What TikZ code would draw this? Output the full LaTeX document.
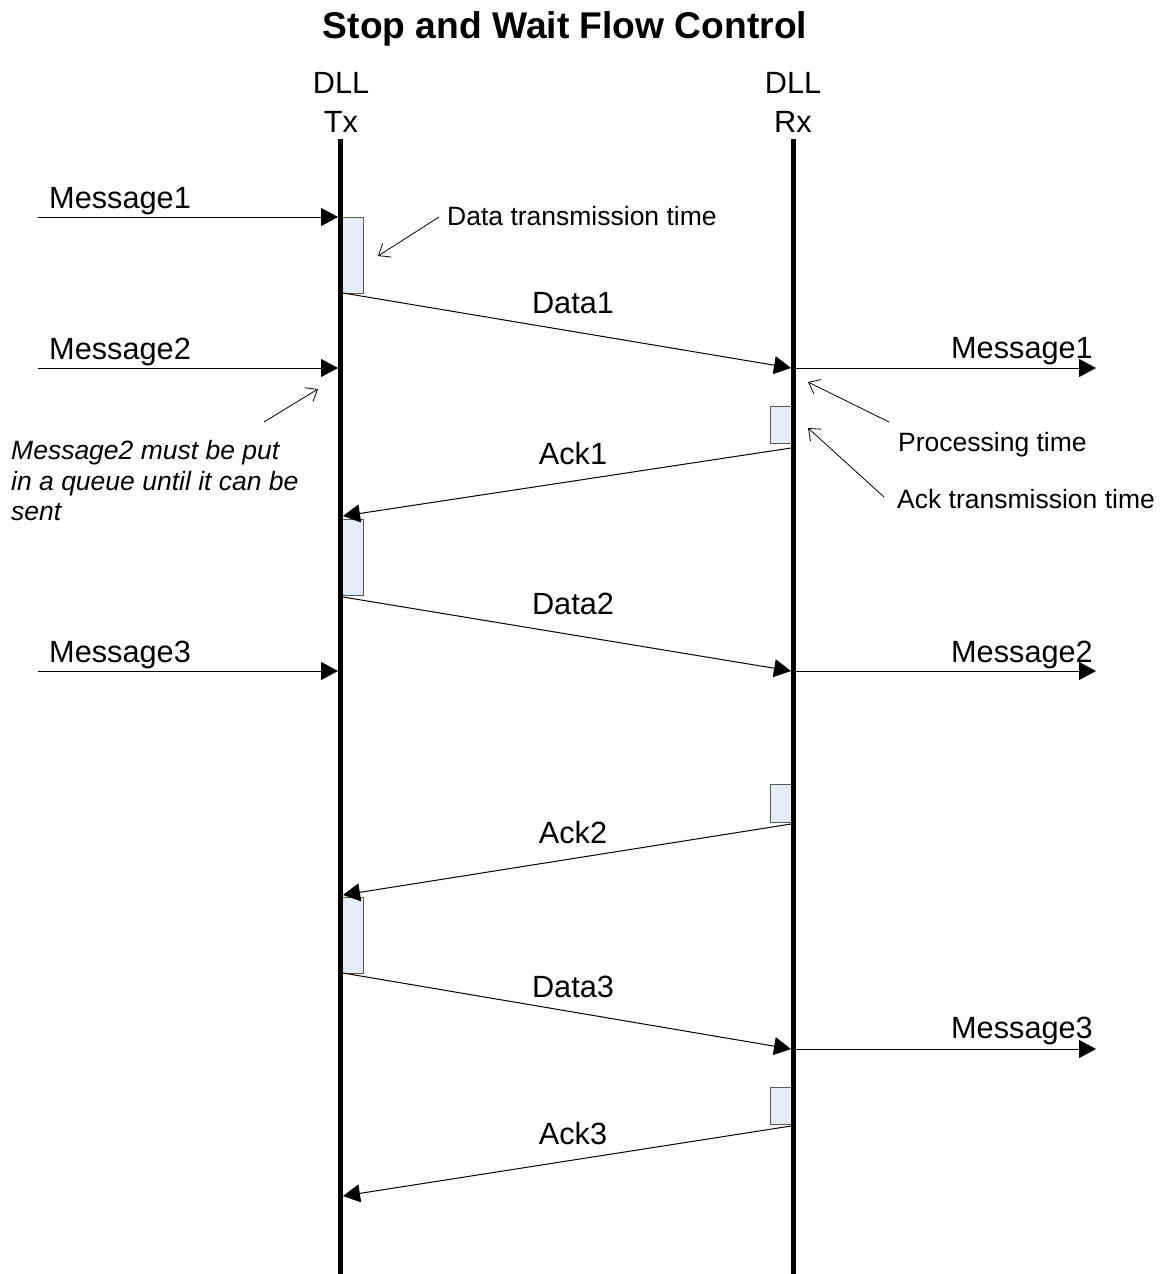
\documentclass[tikz,border=0pt]{standalone}
\usepackage{fontspec}
\setmainfont{Liberation Sans}
\usetikzlibrary{arrows.meta}
\tikzset{
  lifeline/.style={line width=5pt},
  msg/.style={line width=1pt, -{Triangle[length=17pt,width=18pt]}},
  note/.style={line width=0.8pt, -{Straight Barb[length=10pt,width=16pt]}},
  txbox/.style={draw=black!65, line width=0.8pt, fill=boxfill, minimum width=23pt, minimum height=76pt, inner sep=0pt, anchor=north west},
  rxbox/.style={draw=black!65, line width=0.8pt, fill=boxfill, minimum width=22pt, minimum height=37pt, inner sep=0pt, anchor=north east},
  big/.style={inner sep=0pt, font=\fontsize{30.7}{36}\selectfont},
  small/.style={inner sep=0pt, font=\fontsize{26.5}{31}\selectfont},
  smallit/.style={inner sep=0pt, font=\fontsize{26.5}{31}\selectfont\itshape},
  ttl/.style={inner sep=0pt, font=\fontsize{37.2}{42}\selectfont\bfseries}
}
\definecolor{boxfill}{HTML}{E6ECF6}
\begin{document}
\begin{tikzpicture}[x=1pt,y=-1pt]
\useasboundingbox (0,0) rectangle (1165,1274);
% title and headers
\node[ttl, anchor=base] (title) at (565,38) {Stop and Wait Flow Control};
\node[big, anchor=base] (txdll) at (341,93) {DLL};
\node[big, anchor=base] (txname) at (341,132) {Tx};
\node[big, anchor=base] (rxdll) at (793,93) {DLL};
\node[big, anchor=base] (rxname) at (793,132) {Rx};
% processing boxes
\node[txbox] (tb1) at (340,217) {};
\node[txbox] (tb2) at (340,519) {};
\node[txbox] (tb3) at (340,897) {};
\node[rxbox] (rb1) at (793,406) {};
\node[rxbox, minimum height=38pt] (rb2) at (793,784) {};
\node[rxbox] (rb3) at (793,1087) {};
% lifelines
\coordinate (txtop) at (340.5,139);
\coordinate (txbot) at (340.5,1274);
\coordinate (rxtop) at (793.5,139);
\coordinate (rxbot) at (793.5,1274);
\draw[lifeline] (txtop) -- (txbot);
\draw[lifeline] (rxtop) -- (rxbot);
% incoming messages at Tx
\coordinate (in1) at (38,217);  \coordinate (in1e) at (338,217);
\coordinate (in2) at (38,368);  \coordinate (in2e) at (338,368);
\coordinate (in3) at (38,671);  \coordinate (in3e) at (338,671);
\draw[msg] (in1) -- (in1e);
\draw[msg] (in2) -- (in2e);
\draw[msg] (in3) -- (in3e);
\node[big, anchor=base west] (lm1) at (49,208) {Message1};
\node[big, anchor=base west] (lm2) at (49,359) {Message2};
\node[big, anchor=base west] (lm3) at (49,662) {Message3};
% data frames
\coordinate (d1s) at (343,293);  \coordinate (d1e) at (791,368);
\coordinate (d2s) at (343,597);  \coordinate (d2e) at (791,671);
\coordinate (d3s) at (343,973);  \coordinate (d3e) at (791,1049);
\draw[msg] (d1s) -- (d1e);
\draw[msg] (d2s) -- (d2e);
\draw[msg] (d3s) -- (d3e);
\node[big, anchor=base] (dl1) at (573,313) {Data1};
\node[big, anchor=base] (dl2) at (573,614) {Data2};
\node[big, anchor=base] (dl3) at (573,997) {Data3};
% acks
\coordinate (a1s) at (791,448);  \coordinate (a1e) at (343,516);
\coordinate (a2s) at (791,824);  \coordinate (a2e) at (343,895);
\coordinate (a3s) at (791,1126); \coordinate (a3e) at (343,1196);
\draw[msg] (a1s) -- (a1e);
\draw[msg] (a2s) -- (a2e);
\draw[msg] (a3s) -- (a3e);
\node[big, anchor=base] (al1) at (573,464) {Ack1};
\node[big, anchor=base] (al2) at (573,843) {Ack2};
\node[big, anchor=base] (al3) at (573,1144) {Ack3};
% delivered messages at Rx
\coordinate (out1s) at (796,368);  \coordinate (out1) at (1096,368);
\coordinate (out2s) at (796,671);  \coordinate (out2) at (1096,671);
\coordinate (out3s) at (796,1049); \coordinate (out3) at (1096,1049);
\draw[msg] (out1s) -- (out1);
\draw[msg] (out2s) -- (out2);
\draw[msg] (out3s) -- (out3);
\node[big, anchor=base east] (rm1) at (1093,358) {Message1};
\node[big, anchor=base east] (rm2) at (1093,662) {Message2};
\node[big, anchor=base east] (rm3) at (1093,1038) {Message3};
% annotations
\node[small, anchor=base west] (dtt) at (447,225) {Data transmission time};
\coordinate (dtts) at (439,217); \coordinate (dtte) at (378,256);
\draw[note] (dtts) -- (dtte);
\node[small, anchor=base west] (pt) at (898,451) {Processing time};
\coordinate (pts) at (889,422); \coordinate (pte) at (808,382);
\draw[note] (pts) -- (pte);
\node[small, anchor=base west] (att) at (897,508) {Ack transmission time};
\coordinate (atts) at (884,497); \coordinate (atte) at (808,428);
\draw[note] (atts) -- (atte);
\node[smallit, anchor=base west] (q1) at (11,459) {Message2 must be put};
\node[smallit, anchor=base west] (q2) at (11,490) {in a queue until it can be};
\node[smallit, anchor=base west] (q3) at (11,520) {sent};
\coordinate (qs) at (264,422); \coordinate (qe) at (318,389);
\draw[note] (qs) -- (qe);
\end{tikzpicture}
\end{document}
